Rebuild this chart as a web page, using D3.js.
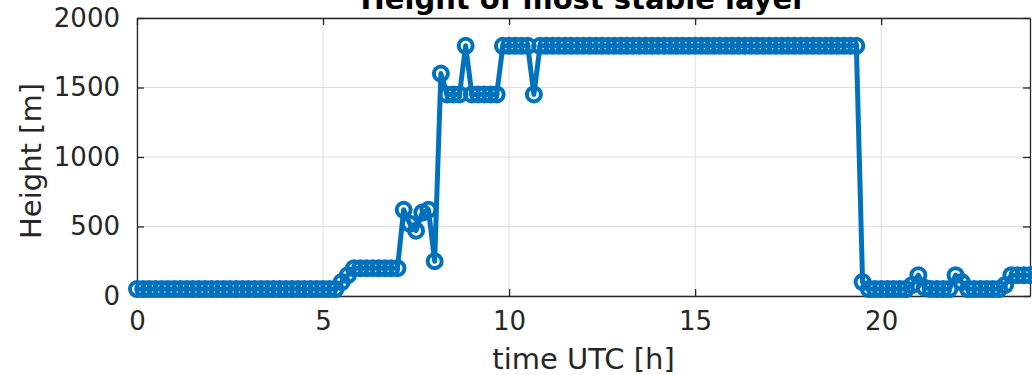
<!DOCTYPE html>
<html>
<head>
<meta charset="utf-8">
<script src="https://cdn.jsdelivr.net/npm/d3@7"></script>
<style>
  body { margin: 0; background: #fff; }
  svg text { font-family: "DejaVu Sans", sans-serif; fill: #262626; }
</style>
</head>
<body>
<div id="chart"></div>
<script>
// sample interval of the series (minutes)
const stepMinutes = 10;

// height of most stable layer [m], one value every 10 min from 00 UTC
const heights = [
  50, 50, 50, 50, 50, 50, 50, 50, 50, 50, 50, 50, 50, 50, 50, 50, 50, 50,
  50, 50, 50, 50, 50, 50, 50, 50, 50, 50, 50, 50, 50, 50, 50,
  100, 150,
  200, 200, 200, 200, 200, 200, 200, 200,
  620, 520, 470, 600, 620, 250,
  1600, 1450, 1450, 1450, 1800, 1450, 1450, 1450, 1450, 1450,
  1800, 1800, 1800, 1800, 1800, 1450,
  1800, 1800, 1800, 1800, 1800, 1800, 1800, 1800, 1800, 1800,
  1800, 1800, 1800, 1800, 1800, 1800, 1800, 1800, 1800, 1800,
  1800, 1800, 1800, 1800, 1800, 1800, 1800, 1800, 1800, 1800,
  1800, 1800, 1800, 1800, 1800, 1800, 1800, 1800, 1800, 1800,
  1800, 1800, 1800, 1800, 1800, 1800, 1800, 1800, 1800, 1800,
  1800, 1800,
  100, 50, 50, 50, 50, 50, 50, 50, 80, 150, 60, 50, 50, 50, 50,
  150, 100, 50, 50, 50, 50, 50, 50, 80, 150, 150, 150, 150
];

const xTicks = [0, 5, 10, 15, 20];
const yTicks = [0, 500, 1000, 1500, 2000];

const data = heights.map((h, i) => ({ t: (i * stepMinutes) / 60, h: h }));

const width = 1032, height = 375;
const margin = { top: 18, right: 2, bottom: 79, left: 137 };

const svg = d3
  .select("#chart")
  .append("svg")
  .attr("width", width)
  .attr("height", height);

const x = d3.scaleLinear().domain([0, 24]).range([margin.left, width - margin.right]);
const y = d3.scaleLinear().domain([0, 2000]).range([height - margin.bottom, margin.top]);

// grid
svg
  .append("g")
  .selectAll("line")
  .data(xTicks)
  .join("line")
  .attr("x1", (d) => x(d))
  .attr("x2", (d) => x(d))
  .attr("y1", y(0))
  .attr("y2", y(2000))
  .attr("stroke", "#dedede");
svg
  .append("g")
  .selectAll("line")
  .data(yTicks)
  .join("line")
  .attr("x1", x(0))
  .attr("x2", x(24))
  .attr("y1", (d) => y(d))
  .attr("y2", (d) => y(d))
  .attr("stroke", "#dedede");

// axes, MATLAB style: ticks inside, on all four sides
const tick = 7;
const xAxis = svg
  .append("g")
  .attr("transform", `translate(0,${y(0)})`)
  .call(d3.axisBottom(x).tickValues(xTicks).tickFormat(d3.format("d")).tickSize(-tick).tickPadding(tick + 9).tickSizeOuter(0));
const yAxis = svg
  .append("g")
  .attr("transform", `translate(${x(0)},0)`)
  .call(d3.axisLeft(y).tickValues(yTicks).tickFormat(d3.format("d")).tickSize(-tick).tickPadding(tick + 10).tickSizeOuter(0));
svg
  .append("g")
  .attr("transform", `translate(0,${y(2000)})`)
  .call(d3.axisTop(x).tickValues(xTicks).tickSize(-tick).tickFormat("").tickSizeOuter(0));
svg
  .append("g")
  .attr("transform", `translate(${x(24)},0)`)
  .call(d3.axisRight(y).tickValues(yTicks).tickSize(-tick).tickFormat("").tickSizeOuter(0));

svg.selectAll(".domain").attr("stroke", "#262626").attr("stroke-width", 1.3);
svg.selectAll(".tick line").attr("stroke", "#262626").attr("stroke-width", 1.3);
xAxis.selectAll("text").style("font-size", "26px").style("fill", "#262626");
yAxis.selectAll("text").style("font-size", "26px").style("fill", "#262626");

// series
const line = d3
  .line()
  .x((d) => x(d.t))
  .y((d) => y(d.h));

svg
  .append("path")
  .datum(data)
  .attr("d", line)
  .attr("fill", "none")
  .attr("stroke", "#0072BD")
  .attr("stroke-width", 5)
  .attr("stroke-linejoin", "round");

svg
  .append("g")
  .selectAll("circle")
  .data(data)
  .join("circle")
  .attr("cx", (d) => x(d.t))
  .attr("cy", (d) => y(d.h))
  .attr("r", 7)
  .attr("fill", "none")
  .attr("stroke", "#0072BD")
  .attr("stroke-width", 4);

// labels
svg
  .append("text")
  .attr("x", (x(0) + x(24)) / 2)
  .attr("y", 9)
  .attr("text-anchor", "middle")
  .style("font-size", "29px")
  .style("font-weight", "bold")
  .style("fill", "#000")
  .text("Height of most stable layer");

svg
  .append("text")
  .attr("x", (x(0) + x(24)) / 2)
  .attr("y", 369)
  .attr("text-anchor", "middle")
  .style("font-size", "29px")
  .text("time UTC [h]");

svg
  .append("text")
  .attr("transform", "rotate(-90)")
  .attr("x", -161)
  .attr("y", 41)
  .attr("text-anchor", "middle")
  .style("font-size", "29px")
  .text("Height [m]");
</script>
</body>
</html>
